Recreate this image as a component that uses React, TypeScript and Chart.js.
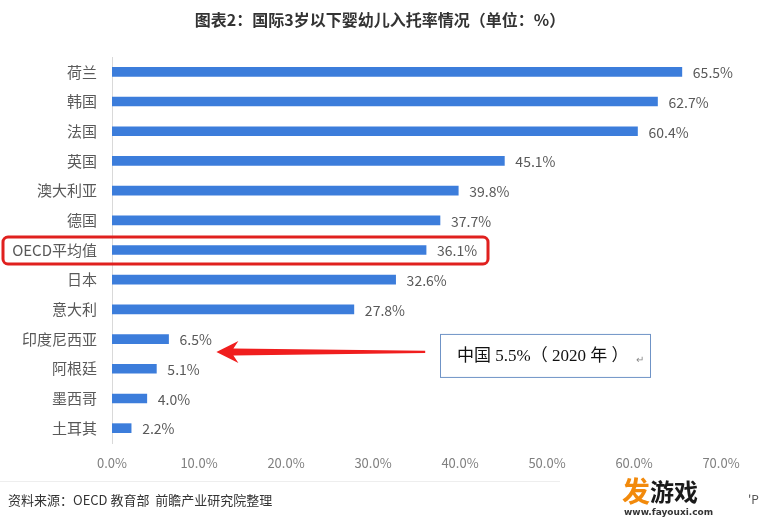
import React, { useEffect, useRef } from "react";
import { Chart, registerables } from "chart.js";

Chart.register(...registerables);

const categories: string[] = [
  "荷兰", "韩国", "法国", "英国", "澳大利亚", "德国", "OECD平均值",
  "日本", "意大利", "印度尼西亚", "阿根廷", "墨西哥", "土耳其",
];
const values: number[] = [65.5, 62.7, 60.4, 45.1, 39.8, 37.7, 36.1, 32.6, 27.8, 6.5, 5.1, 4.0, 2.2];
const xTicks: number[] = [0, 10, 20, 30, 40, 50, 60, 70];
const titleText = "图表2：国际3岁以下婴幼儿入托率情况（单位：%）";
const sourceText = "资料来源：OECD 教育部  前瞻产业研究院整理";
const noteText = "中国 5.5%（ 2020 年 ）";
const highlightIndex = 6;
const arrowTargetIndex = 9;

const CJK = '"Noto Sans CJK SC", "Noto Sans", sans-serif';

const overlayPlugin = {
  id: "overlay",
  afterDatasetsDraw(chart: any) {
    const ctx = chart.ctx as CanvasRenderingContext2D;
    const xs = chart.scales.x;
    const ys = chart.scales.y;
    ctx.save();
    ctx.font = `14px ${CJK}`;
    ctx.fillStyle = "#595959";
    ctx.textBaseline = "middle";
    ctx.textAlign = "left";
    values.forEach((v, i) => {
      const x = xs.getPixelForValue(v);
      const y = ys.getPixelForValue(i);
      ctx.fillText(v.toFixed(1) + "%", x + 11, y + 1);
    });
    ctx.restore();
  },
  afterDraw(chart: any) {
    const ctx = chart.ctx as CanvasRenderingContext2D;
    const xs = chart.scales.x;
    const ys = chart.scales.y;
    const W = chart.width;
    ctx.save();
    // title
    ctx.font = `bold 16px ${CJK}`;
    ctx.fillStyle = "#333333";
    ctx.textAlign = "center";
    ctx.textBaseline = "middle";
    ctx.fillText(titleText, W / 2, 20);

    // red highlight rounded rect
    const hy = ys.getPixelForValue(highlightIndex);
    ctx.strokeStyle = "#e0201e";
    ctx.lineWidth = 3;
    ctx.beginPath();
    (ctx as any).roundRect(3, hy - 13, 485, 27, 5);
    ctx.stroke();

    // arrow
    const ay = (ys.getPixelForValue(arrowTargetIndex) + ys.getPixelForValue(arrowTargetIndex + 1)) / 2 - 2;
    const tipX = xs.getPixelForValue(12.0);
    const tailX = xs.getPixelForValue(36.0);
    ctx.fillStyle = "#f01e1e";
    ctx.beginPath();
    ctx.moveTo(tipX, ay);
    ctx.lineTo(tipX + 22, ay - 11);
    ctx.lineTo(tipX + 17, ay - 3.5);
    ctx.lineTo(tailX, ay - 1.2);
    ctx.lineTo(tailX, ay + 1.2);
    ctx.lineTo(tipX + 17, ay + 3.5);
    ctx.lineTo(tipX + 22, ay + 11);
    ctx.closePath();
    ctx.fill();

    // note box
    const bx = 440, by = ay - 18, bw = 210, bh = 43;
    ctx.fillStyle = "#ffffff";
    ctx.fillRect(bx, by, bw, bh);
    ctx.strokeStyle = "#6f93c6";
    ctx.lineWidth = 1;
    ctx.strokeRect(bx + 0.5, by + 0.5, bw, bh);
    ctx.fillStyle = "#111111";
    ctx.font = `17px "Liberation Serif", ${CJK}`;
    ctx.textAlign = "left";
    ctx.textBaseline = "middle";
    ctx.fillText(noteText, bx + 17, by + bh / 2 + 1);
    ctx.fillStyle = "#888888";
    ctx.font = `10px ${CJK}`;
    ctx.fillText("↵", bx + 196, by + bh / 2 + 4);

    // faint separator
    ctx.strokeStyle = "#eeeeee";
    ctx.beginPath();
    ctx.moveTo(0, 481.5);
    ctx.lineTo(560, 481.5);
    ctx.stroke();

    // source
    ctx.fillStyle = "#333333";
    ctx.font = `13px ${CJK}`;
    ctx.textBaseline = "middle";
    ctx.fillText(sourceText, 8, 500);

    // logo watermark
    ctx.font = `bold 28px ${CJK}`;
    ctx.fillStyle = "#f28a0c";
    ctx.fillText("发", 622, 491);
    ctx.fillStyle = "#1a1a1a";
    ctx.font = `bold 24px ${CJK}`;
    ctx.fillText("游戏", 650, 492);
    ctx.font = `bold 9px "DejaVu Sans", sans-serif`;
    ctx.fillStyle = "#333333";
    ctx.fillText("www.fayouxi.com", 624, 513);
    ctx.font = `12px ${CJK}`;
    ctx.fillStyle = "#555555";
    ctx.fillText("'P", 748, 499);
    ctx.restore();
  },
};

export default function App() {
  const ref = useRef<HTMLCanvasElement | null>(null);
  useEffect(() => {
    if (!ref.current) return;
    const chart = new Chart(ref.current, {
      type: "bar",
      data: {
        labels: categories,
        datasets: [
          {
            data: values,
            backgroundColor: "#3c7ddb",
            barThickness: 9,
          },
        ],
      },
      options: {
        indexAxis: "y",
        animation: false,
        responsive: false,
        maintainAspectRatio: false,
        layout: { padding: { left: 0, right: 39, top: 57, bottom: 41 } },
        plugins: {
          legend: { display: false },
          tooltip: { enabled: false },
          title: { display: false },
        },
        scales: {
          x: {
            min: 0,
            max: 70,
            afterBuildTicks: (scale: any) => {
              scale.ticks = xTicks.map((v) => ({ value: v }));
            },
            afterFit: (scale: any) => {
              scale.height = 38;
            },
            ticks: {
              callback: (v: any) => Number(v).toFixed(1) + "%",
              color: "#7f7f7f",
              font: { family: CJK, size: 13 },
              padding: 12,
            },
            grid: { display: false, drawTicks: false },
            border: { display: false },
          },
          y: {
            afterFit: (scale: any) => {
              scale.width = 112;
            },
            ticks: {
              color: "#595959",
              font: { family: CJK, size: 15 },
              padding: 15,
            },
            grid: { display: false, drawTicks: false },
            border: { display: true, color: "#d9d9d9", width: 1 },
          },
        },
      },
      plugins: [overlayPlugin],
    });
    return () => chart.destroy();
  }, []);
  return (
    <div style={{ position: "fixed", left: 0, top: 0, width: 760, height: 522, background: "#ffffff" }}>
      <canvas ref={ref} width={760} height={522} style={{ width: 760, height: 522 }} />
    </div>
  );
}
